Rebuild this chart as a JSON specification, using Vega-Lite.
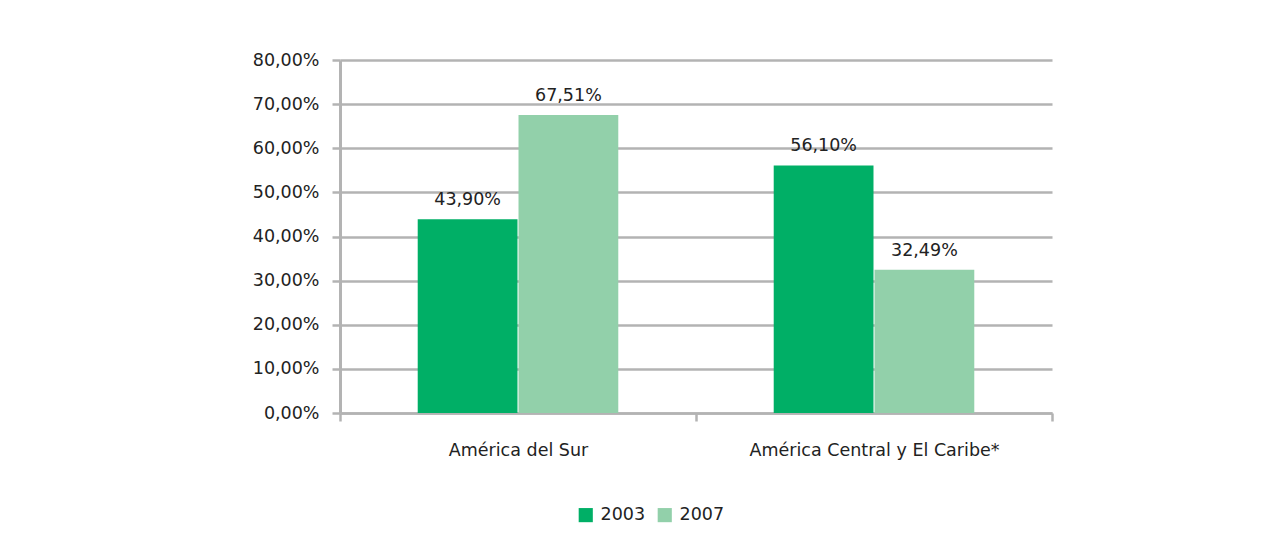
{
  "$schema": "https://vega.github.io/schema/vega-lite/v6.json",
  "width": 712,
  "height": 353,
  "autosize": {"type": "none"},
  "padding": {"left": 340, "top": 60, "right": 230, "bottom": 146},
  "background": "white",
  "config": {
    "locale": {"number": {"decimal": ",", "thousands": ".", "grouping": [3], "currency": ["", " €"]}},
    "view": {"stroke": null},
    "font": "DejaVu Sans",
    "axis": {"labelFont": "DejaVu Sans", "labelFontSize": 17.5, "labelColor": "#222222"}
  },
  "data": {
    "values": [
      {"region": "América del Sur", "year": "2003", "value": 0.439},
      {"region": "América del Sur", "year": "2007", "value": 0.6751},
      {"region": "América Central y El Caribe*", "year": "2003", "value": 0.561},
      {"region": "América Central y El Caribe*", "year": "2007", "value": 0.3249}
    ]
  },
  "encoding": {
    "x": {
      "field": "region",
      "type": "nominal",
      "sort": ["América del Sur", "América Central y El Caribe*"],
      "scale": {"paddingInner": 0, "paddingOuter": 0},
      "axis": {
        "title": null,
        "labelAngle": 0,
        "labelLimit": 0,
        "tickBand": "extent",
        "domainColor": "#B3B3B3",
        "domainWidth": 2.5,
        "tickColor": "#B3B3B3",
        "tickWidth": 2.5,
        "tickSize": 8,
        "labelPadding": 20,
        "grid": false
      }
    },
    "xOffset": {
      "field": "year",
      "type": "nominal",
      "scale": {"paddingInner": 0.01, "paddingOuter": 0.771}
    },
    "y": {
      "field": "value",
      "type": "quantitative",
      "scale": {"domain": [0, 0.8]},
      "axis": {
        "title": null,
        "format": ".2%",
        "labelOverlap": false,
        "values": [0, 0.1, 0.2, 0.3, 0.4, 0.5, 0.6, 0.7, 0.8],
        "gridColor": "#B3B3B3",
        "gridWidth": 2.5,
        "domainColor": "#B3B3B3",
        "domainWidth": 3,
        "tickColor": "#B3B3B3",
        "tickWidth": 2.5,
        "tickSize": 8,
        "labelPadding": 13
      }
    }
  },
  "layer": [
    {
      "mark": {"type": "bar"},
      "encoding": {
        "color": {
          "field": "year",
          "type": "nominal",
          "scale": {"domain": ["2003", "2007"], "range": ["#00AF66", "#92D0AA"]},
          "legend": {
            "title": null,
            "orient": "none",
            "direction": "horizontal",
            "legendX": 237,
            "legendY": 446,
            "symbolType": "square",
            "symbolSize": 200,
            "symbolStrokeWidth": 0,
            "labelFont": "DejaVu Sans",
            "labelFontSize": 17.5,
            "labelColor": "#222222",
            "columnPadding": 10,
            "labelOffset": 6
          }
        }
      }
    },
    {
      "mark": {"type": "text", "baseline": "bottom", "dy": -10, "font": "DejaVu Sans", "fontSize": 17.5, "color": "#222222"},
      "encoding": {
        "text": {"field": "value", "type": "quantitative", "format": ".2%"}
      }
    }
  ]
}
